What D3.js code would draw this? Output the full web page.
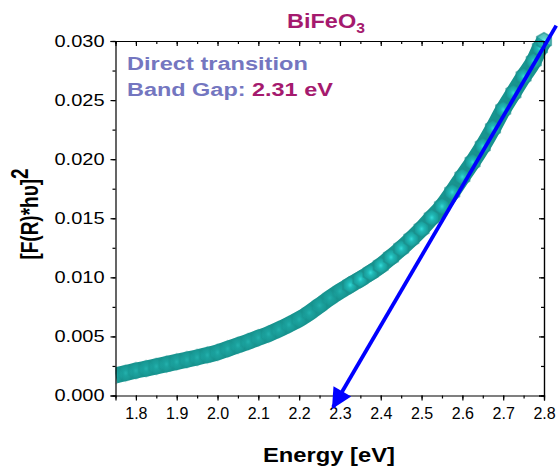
<!DOCTYPE html>
<html>
<head>
<meta charset="utf-8">
<script src="https://cdn.jsdelivr.net/npm/d3@7"></script>
<style>
  body { margin: 0; background: #fff; }
  text { font-family: Arial, "Liberation Sans", sans-serif; }
</style>
</head>
<body>
<div id="chart"></div>
<script>
// energy (eV) and [F(R)*hv]^2
const energy = [1.750, 1.775, 1.800, 1.825, 1.850, 1.875, 1.900, 1.925, 1.950, 1.975,
  2.000, 2.025, 2.050, 2.075, 2.100, 2.125, 2.150, 2.175, 2.200, 2.225,
  2.250, 2.275, 2.300, 2.325, 2.350, 2.375, 2.400, 2.425, 2.450, 2.475,
  2.500, 2.525, 2.550, 2.575, 2.600, 2.625, 2.650, 2.675, 2.700, 2.725,
  2.750, 2.775, 2.790, 2.800];
const fr2 = [0.00170, 0.00190, 0.00210, 0.00228, 0.00246, 0.00265, 0.00285, 0.00303, 0.00322, 0.00342,
  0.00365, 0.00395, 0.00425, 0.00455, 0.00488, 0.00520, 0.00558, 0.00600, 0.00645, 0.00700,
  0.00762, 0.00825, 0.00882, 0.00935, 0.00985, 0.01040, 0.01100, 0.01170, 0.01245, 0.01325,
  0.01410, 0.01505, 0.01600, 0.01720, 0.01850, 0.01975, 0.02110, 0.02260, 0.02420, 0.02560,
  0.02700, 0.02830, 0.02940, 0.03000];

// tangent line (arrow), [energy, value]
const fitStart = [2.83, 0.0313];
const fitEnd = [2.283, -0.0010];

const xTicks = [1.8, 1.9, 2.0, 2.1, 2.2, 2.3, 2.4, 2.5, 2.6, 2.7, 2.8];
const yTicks = [0, 0.005, 0.010, 0.015, 0.020, 0.025, 0.030];

const width = 560, height = 470;
const margin = {top: 41, right: 16, bottom: 74.5, left: 115.5};

const svg = d3.select("#chart").append("svg")
  .attr("width", width)
  .attr("height", height);

const x = d3.scaleLinear().domain([1.75, 2.8]).range([margin.left, width - margin.right]);
const y = d3.scaleLinear().domain([0, 0.030]).range([height - margin.bottom, margin.top]);

// squeeze/stretch a text horizontally so it spans w pixels
function fitWidth(sel, w) {
  const bw = sel.node().getComputedTextLength();
  const tx = +sel.attr("x"), ty = +sel.attr("y");
  sel.attr("x", null).attr("y", null)
    .attr("transform", `translate(${tx},${ty}) scale(${w / bw},1)`);
}

const defs = svg.append("defs");
const grad = defs.append("radialGradient").attr("id", "hexfill");
grad.append("stop").attr("offset", "0%").attr("stop-color", "#3ef2f0");
grad.append("stop").attr("offset", "35%").attr("stop-color", "#22c4c2");
grad.append("stop").attr("offset", "100%").attr("stop-color", "#179592");

defs.append("clipPath").attr("id", "plotclip")
  .append("rect")
  .attr("x", margin.left).attr("y", 0)
  .attr("width", width - margin.left).attr("height", height - margin.bottom);

defs.append("marker")
  .attr("id", "arrowhead")
  .attr("viewBox", "0 0 10 10")
  .attr("refX", 9).attr("refY", 5)
  .attr("markerWidth", 6).attr("markerHeight", 5.4)
  .attr("markerUnits", "strokeWidth")
  .attr("orient", "auto")
  .append("path")
  .attr("d", "M0,0L10,5L0,10Z")
  .attr("fill", "#0000ff");

const pts = energy.map((e, i) => [e, fr2[i]]);
const dataG = svg.append("g").attr("clip-path", "url(#plotclip)");

// thick band under the markers
dataG.append("path")
  .datum(pts)
  .attr("fill", "none")
  .attr("stroke", "#18948f")
  .attr("stroke-width", 16)
  .attr("stroke-linejoin", "round")
  .attr("d", d3.line().x(d => x(d[0])).y(d => y(d[1])).curve(d3.curveMonotoneX));

// hexagon markers
const r = 8.5;
const hex = d3.range(6).map(k => {
  const a = Math.PI / 3 * k + Math.PI / 6;
  return [r * Math.cos(a), r * Math.sin(a)];
});
dataG.append("g")
  .selectAll("path")
  .data(pts)
  .join("path")
  .attr("transform", d => `translate(${x(d[0])},${y(d[1])})`)
  .attr("d", "M" + hex.join("L") + "Z")
  .attr("fill", "url(#hexfill)")
  .attr("fill-opacity", d => d[0] > 2.3 ? 0.75 : 0.3)
  .attr("stroke", "#1a8f8c")
  .attr("stroke-opacity", d => d[0] > 2.3 ? 0.6 : 0.2)
  .attr("stroke-width", 1.5);

// axes
const plotBottom = height - margin.bottom;
const plotRight = width - margin.right;
const xMinor = d3.range(1.75, 2.801, 0.05);
const yMinor = d3.range(0, 0.0301, 0.0025);

svg.append("g")
  .attr("transform", `translate(0,${plotBottom})`)
  .call(d3.axisBottom(x).tickValues(xMinor).tickSize(3).tickFormat(""))
  .call(g => g.select(".domain").remove());
svg.append("g")
  .attr("transform", `translate(0,${plotBottom})`)
  .call(d3.axisBottom(x).tickValues(xTicks).tickSize(5).tickPadding(7).tickFormat(d3.format(".1f")))
  .call(g => g.selectAll("text").attr("font-size", 16).attr("fill", "#000"));

svg.append("g")
  .attr("transform", `translate(0,${margin.top})`)
  .call(d3.axisBottom(x).tickValues(xMinor).tickSize(3).tickFormat(""));
svg.append("g")
  .attr("transform", `translate(0,${margin.top})`)
  .call(d3.axisBottom(x).tickValues(xTicks).tickSize(5).tickFormat(""));

svg.append("g")
  .attr("transform", `translate(${margin.left},0)`)
  .call(d3.axisLeft(y).tickValues(yMinor).tickSize(3).tickFormat(""))
  .call(g => g.select(".domain").remove());
svg.append("g")
  .attr("transform", `translate(${margin.left},0)`)
  .call(d3.axisLeft(y).tickValues(yTicks).tickSize(5).tickPadding(6).tickFormat(d3.format(".3f")))
  .call(g => g.selectAll("text")
    .attr("font-size", 16).attr("fill", "#000")
    .attr("textLength", 50).attr("lengthAdjust", "spacingAndGlyphs"));

svg.append("g")
  .attr("transform", `translate(${plotRight},0)`)
  .call(d3.axisLeft(y).tickValues(yMinor).tickSize(3).tickFormat(""));
svg.append("g")
  .attr("transform", `translate(${plotRight},0)`)
  .call(d3.axisLeft(y).tickValues(yTicks).tickSize(5).tickFormat(""));

svg.selectAll(".domain, .tick line").attr("stroke", "#000").attr("stroke-width", 1.2);

// tangent arrow
svg.append("line")
  .attr("x1", x(fitStart[0])).attr("y1", y(fitStart[1]))
  .attr("x2", x(fitEnd[0])).attr("y2", y(fitEnd[1]))
  .attr("stroke", "#0000ff")
  .attr("stroke-width", 3.8)
  .attr("marker-end", "url(#arrowhead)");

// texts
const title = svg.append("text")
  .attr("x", 287).attr("y", 28)
  .attr("font-size", 21).attr("font-weight", "bold").attr("fill", "#a51a6e");
title.append("tspan").text("BiFeO");
title.append("tspan").attr("font-size", 14).attr("dy", 5).text("3");
fitWidth(title, 78);

const dt = svg.append("text")
  .attr("x", 127).attr("y", 70)
  .attr("font-size", 19).attr("font-weight", "bold").attr("fill", "#7476c0")
  .text("Direct transition");
fitWidth(dt, 181);
const bg = svg.append("text")
  .attr("x", 127).attr("y", 96)
  .attr("font-size", 19).attr("font-weight", "bold").attr("fill", "#7476c0");
bg.append("tspan").text("Band Gap: ");
bg.append("tspan").attr("fill", "#a51a6e").text("2.31 eV");
fitWidth(bg, 206);

const xl = svg.append("text")
  .attr("x", 263).attr("y", 462)
  .attr("font-size", 21).attr("font-weight", "bold")
  .text("Energy [eV]");
fitWidth(xl, 132);

const yl = svg.append("text")
  .attr("transform", "translate(38,214) scale(1.3,1) rotate(-90)")
  .attr("text-anchor", "middle")
  .attr("font-size", 19).attr("font-weight", "bold");
yl.append("tspan").text("[F(R)*h\u03C5]");
yl.append("tspan").attr("dy", -8).text("2");
</script>
</body>
</html>
